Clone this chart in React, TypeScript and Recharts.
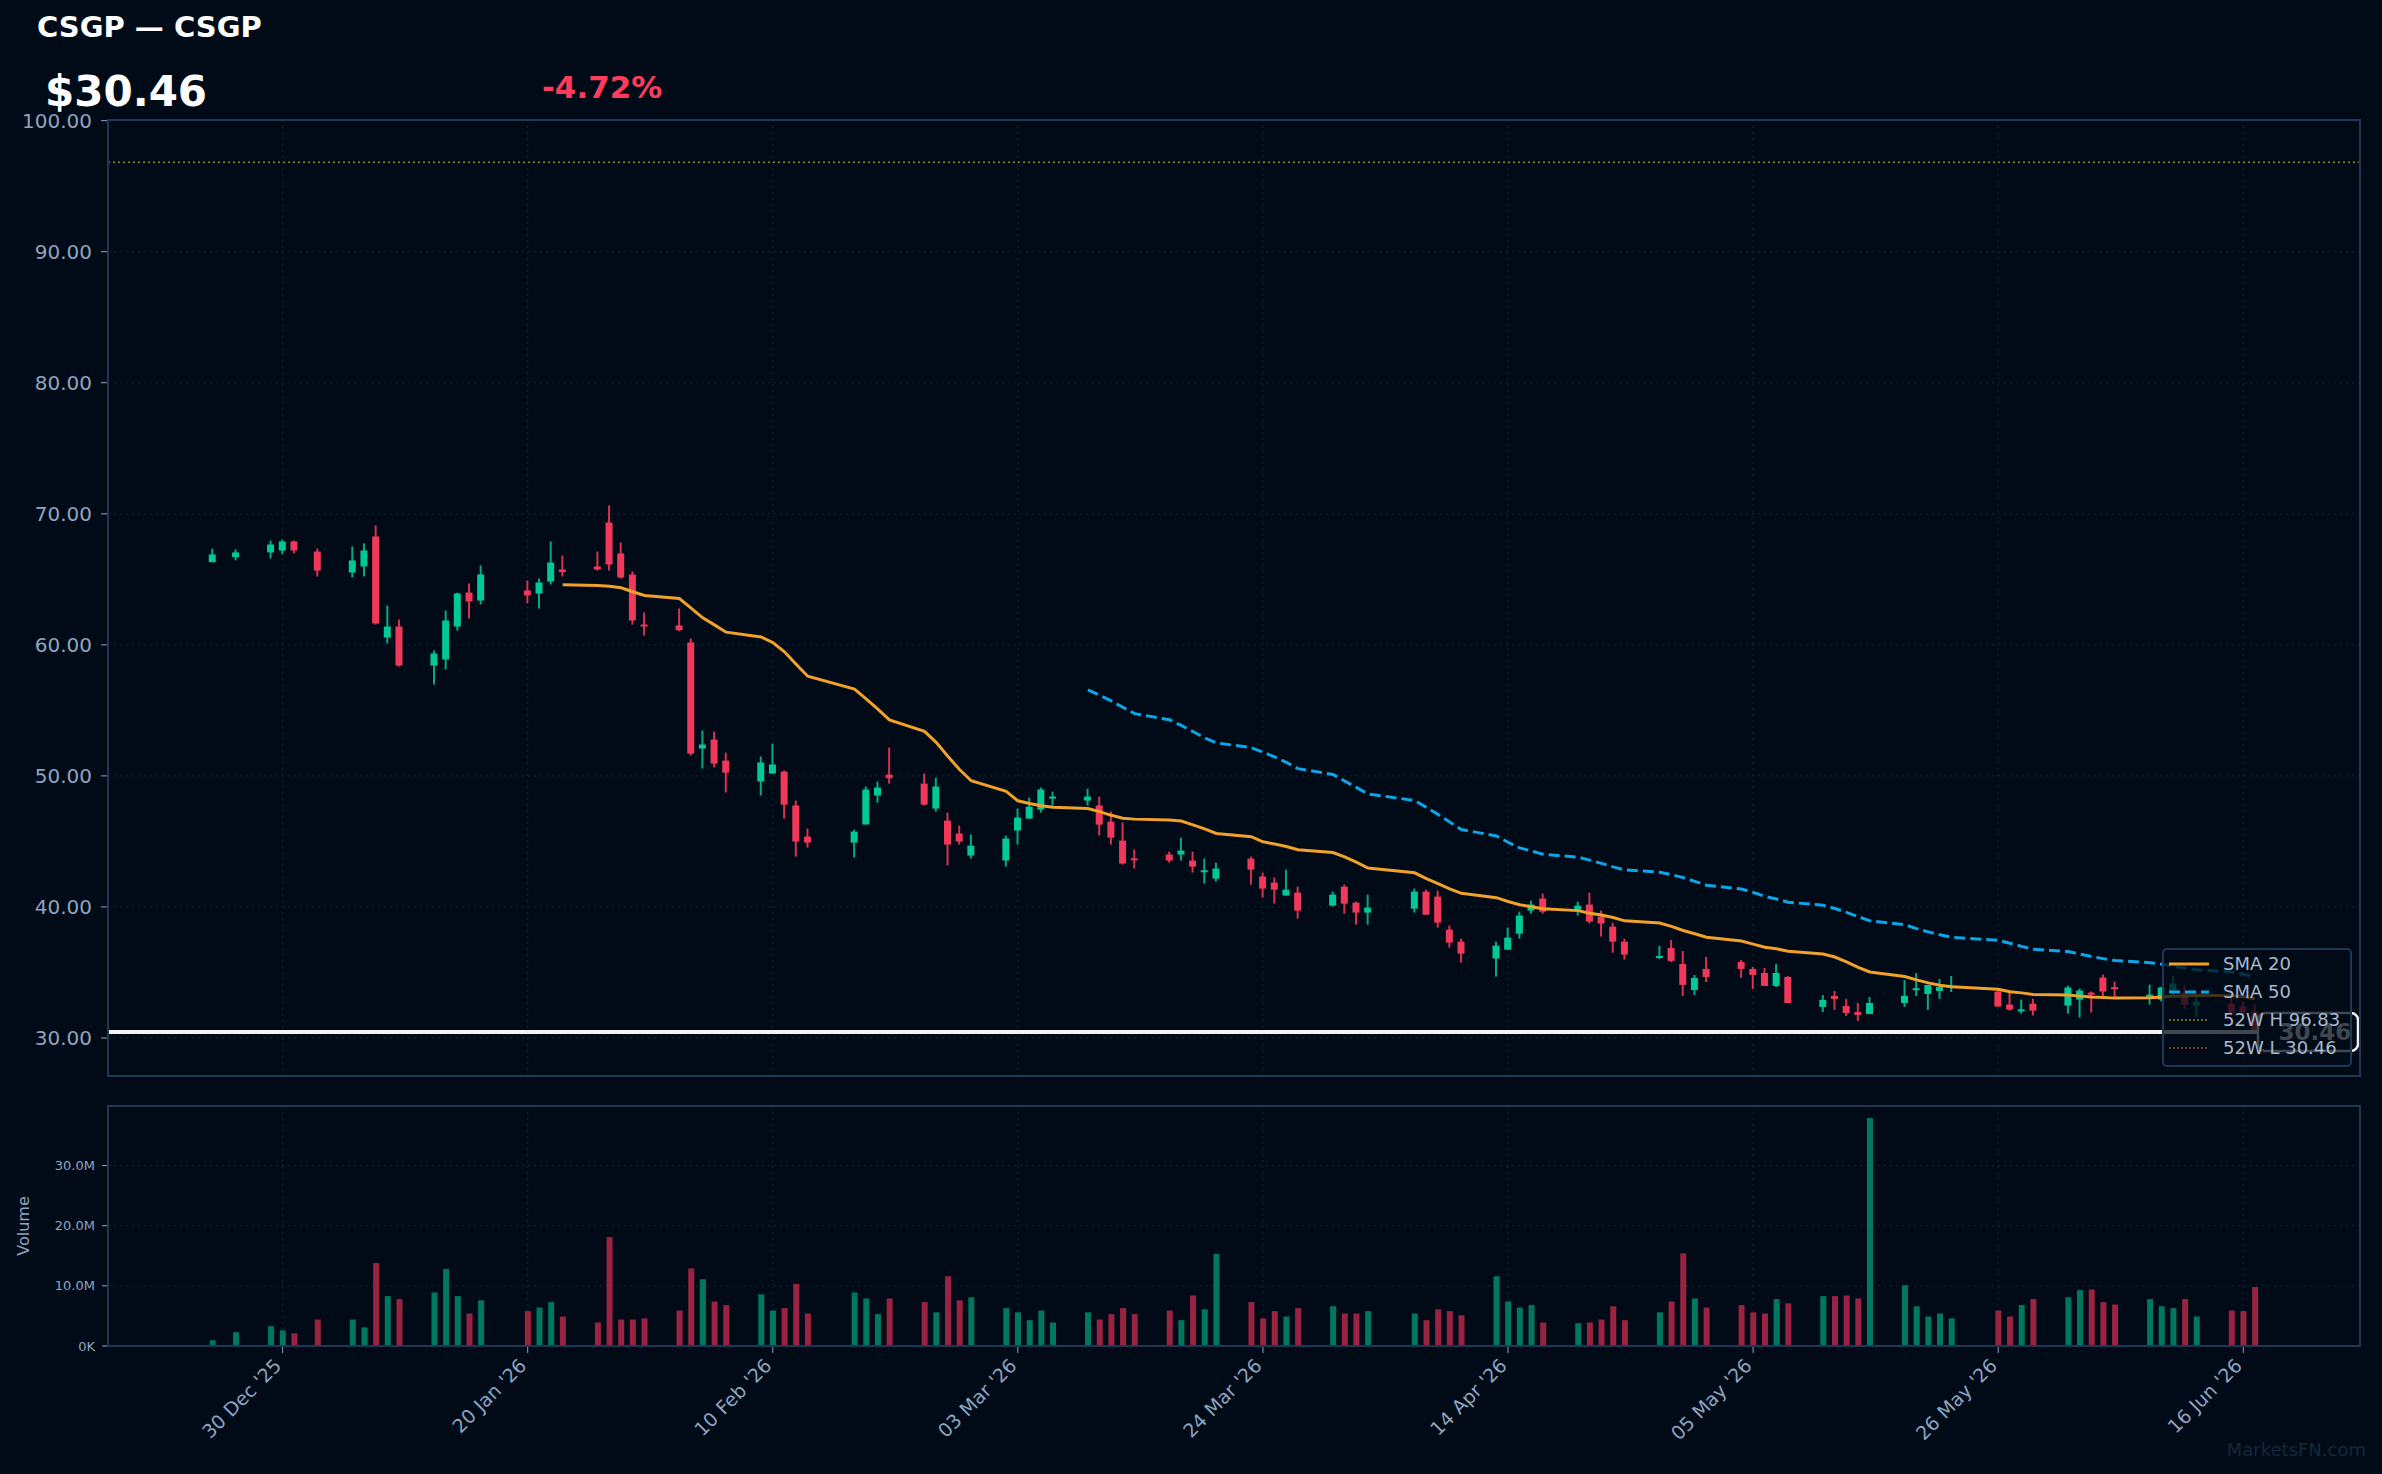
import { ComposedChart, Bar, Line, XAxis, YAxis, CartesianGrid, ReferenceLine, Cell } from 'recharts'

// trading days, counted from 30 Dec '25 (day 0)
const DAYS = [
  -6, -4, -1, 0, 1, 3, 6, 7, 8, 9, 10, 13, 14, 15, 16, 17, 21, 22, 23, 24,
  27, 28, 29, 30, 31, 34, 35, 36, 37, 38, 41, 42, 43, 44, 45, 49, 50, 51, 52, 55,
  56, 57, 58, 59, 62, 63, 64, 65, 66, 69, 70, 71, 72, 73, 76, 77, 78, 79, 80, 83,
  84, 85, 86, 87, 90, 91, 92, 93, 97, 98, 99, 100, 101, 104, 105, 106, 107, 108, 111, 112,
  113, 114, 115, 118, 119, 120, 121, 122, 125, 126, 127, 128, 129, 132, 133, 134, 135, 136, 139, 140,
  141, 142, 143, 147, 148, 149, 150, 153, 154, 155, 156, 157, 160, 161, 162, 163, 164, 167, 168, 169,
]

const OPEN = [
  66.31, 66.69, 67.05, 67.2, 67.89, 67.12, 65.52, 65.98, 68.27, 60.56, 61.4, 58.42, 58.88, 61.4, 63.99, 63.38, 64.15, 63.92, 64.83, 65.75,
  65.98, 69.34, 66.97, 65.37, 61.55, 61.48, 60.18, 52.09, 52.77, 51.17, 49.57, 50.18, 50.33, 47.74, 45.37, 44.91, 46.29, 48.5, 50.1, 49.41,
  47.51, 46.59, 45.6, 43.92, 43.54, 45.83, 46.74, 47.43, 48.37, 48.12, 47.74, 46.51, 45.06, 43.71, 44.0, 44.0, 43.54, 42.75, 42.16, 43.69,
  42.32, 41.86, 40.87, 41.09, 40.1, 41.55, 40.33, 39.57, 39.87, 41.17, 40.79, 38.27, 37.35, 36.06, 36.74, 37.96, 39.72, 40.64, 39.72, 40.18,
  39.26, 38.5, 37.35, 36.22, 36.87, 35.65, 33.66, 35.27, 35.8, 35.27, 34.96, 33.97, 34.66, 32.37, 33.21, 32.44, 31.98, 31.83, 32.67, 33.77,
  33.36, 33.59, 33.95, 33.54, 32.55, 32.15, 32.62, 32.47, 32.93, 33.46, 34.61, 33.88, 33.16, 32.93, 33.46, 33.46, 32.47, 32.62, 32.4, 32.0,
]

const HIGH = [
  67.35, 67.28, 67.96, 68.04, 67.96, 67.35, 67.51, 67.74, 69.11, 63.0, 61.93, 59.57, 62.62, 63.99, 64.68, 66.06, 64.91, 65.06, 67.89, 66.82,
  67.12, 70.64, 67.81, 65.6, 62.47, 62.77, 60.48, 53.46, 53.38, 51.78, 51.48, 52.47, 50.41, 48.12, 45.98, 45.9, 49.19, 49.57, 52.16, 50.18,
  49.87, 47.2, 46.21, 45.52, 45.45, 47.51, 48.35, 49.11, 48.8, 49.03, 48.42, 47.28, 46.44, 44.38, 44.22, 45.29, 44.22, 43.69, 43.38, 43.84,
  42.62, 42.24, 42.85, 41.55, 41.17, 41.7, 40.41, 40.94, 41.4, 41.32, 41.25, 38.58, 37.58, 37.35, 38.42, 39.64, 40.48, 41.02, 40.41, 41.09,
  39.72, 38.8, 37.58, 37.02, 37.48, 36.64, 34.81, 36.18, 35.95, 35.42, 35.34, 35.65, 34.73, 33.28, 33.59, 32.98, 32.67, 33.13, 34.43, 34.96,
  34.05, 34.5, 34.73, 33.62, 33.54, 32.93, 33.0, 34.0, 33.77, 33.54, 34.84, 34.3, 34.07, 33.9, 34.76, 34.07, 33.23, 34.0, 32.8, 32.6,
]

const LOW = [
  66.31, 66.46, 66.59, 66.9, 66.97, 65.22, 65.14, 65.22, 61.55, 60.1, 58.35, 56.97, 58.12, 61.09, 62.01, 63.08, 63.16, 62.77, 64.61, 65.22,
  65.67, 65.67, 65.06, 61.55, 60.71, 61.04, 51.55, 50.56, 50.64, 48.73, 48.5, 50.18, 46.74, 43.84, 44.53, 43.77, 46.29, 47.96, 49.41, 47.74,
  47.28, 43.16, 44.76, 43.69, 43.08, 44.76, 46.74, 47.2, 47.74, 47.74, 45.45, 44.76, 43.23, 42.93, 43.38, 43.54, 42.62, 41.78, 41.93, 41.7,
  40.71, 40.25, 40.87, 39.11, 40.03, 39.49, 38.65, 38.65, 39.57, 39.41, 38.42, 36.9, 35.75, 34.68, 36.74, 37.58, 39.49, 39.49, 39.34, 38.73,
  37.74, 36.51, 35.98, 36.03, 35.8, 33.21, 33.28, 34.27, 34.58, 33.74, 33.97, 33.89, 32.67, 31.98, 32.14, 31.68, 31.3, 31.83, 32.37, 33.21,
  32.14, 32.98, 33.51, 32.4, 32.09, 31.86, 31.71, 31.86, 31.56, 31.94, 33.16, 33.08, 32.55, 32.8, 33.3, 32.24, 31.56, 31.7, 31.6, 30.46,
]

const CLOSE = [
  66.9, 67.05, 67.66, 67.89, 67.2, 65.67, 66.44, 67.2, 61.63, 61.4, 58.42, 59.34, 61.86, 63.92, 63.31, 65.37, 63.77, 64.76, 66.28, 65.55,
  65.75, 66.13, 65.14, 61.86, 61.52, 61.12, 51.7, 52.39, 50.94, 50.25, 51.02, 50.87, 47.81, 44.99, 44.91, 45.75, 48.96, 49.11, 49.82, 47.81,
  49.19, 44.76, 44.99, 44.68, 45.22, 46.82, 47.66, 48.96, 48.42, 48.42, 46.28, 45.29, 43.31, 43.67, 43.54, 44.3, 43.08, 42.8, 42.93, 42.85,
  41.4, 41.32, 41.32, 39.72, 40.94, 40.25, 39.57, 39.95, 41.17, 39.41, 38.8, 37.28, 36.44, 37.05, 37.66, 39.34, 40.18, 39.64, 40.1, 38.88,
  38.73, 37.35, 36.36, 36.26, 35.88, 34.05, 34.58, 34.66, 35.27, 34.81, 33.97, 34.96, 32.67, 32.9, 32.98, 31.91, 31.76, 32.67, 33.21, 33.8,
  34.05, 33.89, 34.0, 32.4, 32.17, 32.19, 32.09, 33.85, 33.62, 33.31, 33.54, 33.84, 33.31, 33.85, 34.15, 32.55, 32.78, 31.94, 31.97, 30.46,
]

// millions of shares
const VOLUME = [
  0.95, 2.3, 3.3, 2.6, 2.1, 4.4, 4.4, 3.1, 13.8, 8.3, 7.8, 8.9, 12.8, 8.3, 5.4, 7.6, 5.8, 6.4, 7.3, 4.9,
  3.9, 18.1, 4.4, 4.4, 4.6, 5.9, 12.9, 11.1, 7.4, 6.8, 8.6, 5.9, 6.3, 10.3, 5.4, 8.9, 7.9, 5.3, 7.9, 7.3,
  5.6, 11.6, 7.6, 8.1, 6.3, 5.6, 4.3, 5.9, 3.9, 5.6, 4.4, 5.3, 6.3, 5.3, 5.9, 4.3, 8.4, 6.1, 15.3, 7.3,
  4.6, 5.8, 4.9, 6.3, 6.6, 5.4, 5.4, 5.8, 5.4, 4.3, 6.1, 5.8, 5.1, 11.6, 7.4, 6.4, 6.8, 3.9, 3.8, 3.9,
  4.4, 6.6, 4.3, 5.6, 7.4, 15.4, 7.9, 6.4, 6.8, 5.6, 5.4, 7.8, 7.1, 8.3, 8.3, 8.4, 7.9, 37.9, 10.1, 6.6,
  4.9, 5.4, 4.6, 5.9, 4.9, 6.8, 7.8, 8.1, 9.3, 9.4, 7.3, 6.9, 7.8, 6.6, 6.3, 7.8, 4.9, 5.9, 5.8, 9.8,
]

const TICK_DAYS = [0, 21, 42, 63, 84, 105, 126, 147, 168]
const TICK_LABELS = ["30 Dec '25", "20 Jan '26", "10 Feb '26", "03 Mar '26", "24 Mar '26", "14 Apr '26", "05 May '26", "26 May '26", "16 Jun '26"]
const PRICE_TICKS = [30, 40, 50, 60, 70, 80, 90, 100]
const VOL_TICKS = [0, 10e6, 20e6, 30e6]

const TICKER = 'CSGP'
const LAST = 30.46
const CHANGE_PCT = -4.72
const HIGH_52W = 96.83
const LOW_52W = 30.46

const X_DOMAIN: [number, number] = [-14.96, 178.0]

const BG = '#010b17'
const FRAME = '#1e3755'
const GRID = '#182434'
const TEXT = '#8ea4c0'
const UP = '#00c896'
const DOWN = '#f0385a'
const UP_WICK = '#04a982'
const DOWN_WICK = '#d8324f'
const VOL_UP = '#00785f'
const VOL_DOWN = '#9a2341'
const SMA20_C = '#f2a228'
const SMA50_C = '#0aa6e8'
const H52_C = '#8c8a1e'
const L52_C = '#a0462e'
const FONT = '"DejaVu Sans", Verdana, sans-serif'

const sma = (n: number, i: number) =>
  i < n - 1 ? null : CLOSE.slice(i - n + 1, i + 1).reduce((a, b) => a + b, 0) / n

const rows = DAYS.map((day, i) => ({
  day,
  o: OPEN[i],
  h: HIGH[i],
  l: LOW[i],
  c: CLOSE[i],
  range: [LOW[i], HIGH[i]],
  volume: VOLUME[i] * 1e6,
  up: CLOSE[i] >= OPEN[i],
  sma20: sma(20, i),
  sma50: sma(50, i),
}))

const Candle = (props: any) => {
  const { x, y, width, height, payload } = props
  if (!payload || x == null) return null
  const { o, h, l, c } = payload
  const up = c >= o
  const k = h > l ? height / (h - l) : 0
  const top = y + (h - Math.max(o, c)) * k
  const bot = y + (h - Math.min(o, c)) * k
  const cx = x + width / 2
  return (
    <g>
      <line x1={cx} x2={cx} y1={y} y2={y + height} stroke={up ? UP_WICK : DOWN_WICK} strokeWidth={2} />
      <rect x={x} y={top} width={width} height={Math.max(bot - top, 2)} fill={up ? UP : DOWN} />
    </g>
  )
}

const PriceTag = (props: any) => {
  const { x, y, width } = props.viewBox || {}
  if (x == null) return null
  const right = x + width - 1
  return (
    <g>
      <rect x={right - 101} y={y - 19} width={100} height={38} rx={7} fill={BG} stroke="#f2f2f2" strokeWidth={2.5} />
      <text x={right - 44} y={y + 8} textAnchor="middle" fill="#f2f2f2" fontSize={23} fontWeight="bold" fontFamily={FONT}>
        {LAST.toFixed(2)}
      </text>
    </g>
  )
}

const DateTick = (props: any) => {
  const { x, y, payload } = props
  const label = TICK_LABELS[TICK_DAYS.indexOf(payload.value)]
  const ty = y + 12
  return (
    <text x={x} y={ty} transform={`rotate(-45 ${x} ${ty})`} textAnchor="end" fill={TEXT} fontSize={19} fontFamily={FONT}>
      {label}
    </text>
  )
}

const fmtVol = (v: number) => (v === 0 ? '0K' : `${(v / 1e6).toFixed(1)}M`)

const LegendBox = () => (
  <div
    style={{
      position: 'absolute',
      left: 2162,
      top: 948,
      width: 190,
      height: 119,
      boxSizing: 'border-box',
      background: 'rgba(2, 12, 24, 0.75)',
      border: `2px solid ${FRAME}`,
      borderRadius: 5,
    }}
  >
    <svg width={186} height={115} style={{ position: 'absolute', left: 0, top: 0 }}>
      <line x1={5} x2={45} y1={14} y2={14} stroke={SMA20_C} strokeWidth={3} />
      <line x1={5} x2={45} y1={42} y2={42} stroke={SMA50_C} strokeWidth={3} strokeDasharray="11 5" />
      <line x1={5} x2={45} y1={70} y2={70} stroke={H52_C} strokeWidth={1.5} strokeDasharray="2 2" />
      <line x1={5} x2={45} y1={98} y2={98} stroke={L52_C} strokeWidth={1.5} strokeDasharray="2 2" />
      {['SMA 20', 'SMA 50', `52W H ${HIGH_52W.toFixed(2)}`, `52W L ${LOW_52W.toFixed(2)}`].map((t, i) => (
        <text key={t} x={59} y={20 + i * 28} fill="#a9b9cc" fontSize={18} fontFamily={FONT}>
          {t}
        </text>
      ))}
    </svg>
  </div>
)

const App = () => {
  const up = CHANGE_PCT >= 0
  return (
    <div style={{ position: 'absolute', left: 0, top: 0, width: 2382, height: 1474, background: BG, overflow: 'hidden' }}>
      <style>{`body{margin:0;background:${BG};}`}</style>

      <div style={{ position: 'absolute', left: 0, top: 0 }}>
        <ComposedChart width={2382} height={1090} data={rows} margin={{ top: 120, right: 22, bottom: 14, left: 8 }}>
          <CartesianGrid stroke={GRID} strokeDasharray="2 4" />
          <XAxis dataKey="day" type="number" domain={X_DOMAIN} ticks={TICK_DAYS} allowDataOverflow hide />
          <YAxis
            type="number"
            domain={[27.1, 100.05]}
            ticks={PRICE_TICKS}
            allowDataOverflow
            width={100}
            interval={0}
            tickFormatter={(v: number) => v.toFixed(2)}
            tick={{ fill: TEXT, fontSize: 20, fontFamily: FONT }}
            tickLine={{ stroke: TEXT }}
            tickSize={7}
            tickMargin={9}
            axisLine={false}
          />
          <ReferenceLine y={HIGH_52W} stroke={H52_C} strokeWidth={1.5} strokeDasharray="2 3" />
          <Bar dataKey="range" shape={<Candle />} barSize={7} isAnimationActive={false} />
          <Line dataKey="sma20" stroke={SMA20_C} strokeWidth={3} dot={false} activeDot={false} isAnimationActive={false} />
          <Line dataKey="sma50" stroke={SMA50_C} strokeWidth={3} strokeDasharray="11 5" dot={false} activeDot={false} isAnimationActive={false} />
          <ReferenceLine y={LOW_52W} stroke={L52_C} strokeWidth={1.5} strokeDasharray="2 3" />
          <ReferenceLine y={LAST} stroke="#f2f2f2" strokeWidth={4} label={<PriceTag />} />
        </ComposedChart>
      </div>

      <div style={{ position: 'absolute', left: 0, top: 1090 }}>
        <ComposedChart width={2382} height={384} data={rows} margin={{ top: 16, right: 22, bottom: 18, left: 8 }}>
          <CartesianGrid stroke={GRID} strokeDasharray="2 4" />
          <XAxis
            dataKey="day"
            type="number"
            domain={X_DOMAIN}
            ticks={TICK_DAYS}
            interval={0}
            allowDataOverflow
            height={110}
            tick={<DateTick />}
            tickLine={{ stroke: TEXT }}
            tickSize={7}
            axisLine={false}
          />
          <YAxis
            type="number"
            domain={[0, 39.9e6]}
            ticks={VOL_TICKS}
            interval={0}
            width={100}
            tickFormatter={fmtVol}
            tick={{ fill: TEXT, fontSize: 13, fontFamily: FONT }}
            tickLine={{ stroke: TEXT }}
            tickSize={6}
            tickMargin={7}
            axisLine={false}
          />
          <Bar dataKey="volume" barSize={6} isAnimationActive={false}>
            {rows.map((r) => (
              <Cell key={r.day} fill={r.up ? VOL_UP : VOL_DOWN} />
            ))}
          </Bar>
        </ComposedChart>
      </div>

      {/* panel frames */}
      <div style={{ position: 'absolute', left: 107, top: 119, width: 2254, height: 958, boxSizing: 'border-box', border: `2px solid ${FRAME}`, pointerEvents: 'none' }} />
      <div style={{ position: 'absolute', left: 107, top: 1105, width: 2254, height: 242, boxSizing: 'border-box', border: `2px solid ${FRAME}`, pointerEvents: 'none' }} />

      <LegendBox />

      <svg width={2382} height={1474} style={{ position: 'absolute', left: 0, top: 0, pointerEvents: 'none' }}>
        <text x={37} y={37} fill="#ffffff" fontSize={29} fontWeight="bold" fontFamily={FONT}>
          {`${TICKER} — ${TICKER}`}
        </text>
        <text x={45} y={106} fill="#ffffff" fontSize={42} fontWeight="bold" fontFamily={FONT}>
          {`$${LAST.toFixed(2)}`}
        </text>
        <text x={542} y={98} fill={up ? UP : '#ff3b5c'} fontSize={31} fontWeight="bold" fontFamily={FONT}>
          {`${up ? '+' : ''}${CHANGE_PCT.toFixed(2)}%`}
        </text>
        <text x={29} y={1226} transform="rotate(-90 29 1226)" textAnchor="middle" fill={TEXT} fontSize={16} fontFamily={FONT}>
          Volume
        </text>
        <text x={2366} y={1456} textAnchor="end" fill="#15273a" fontSize={18} fontFamily={FONT}>
          MarketsFN.com
        </text>
      </svg>
    </div>
  )
}

export default App
